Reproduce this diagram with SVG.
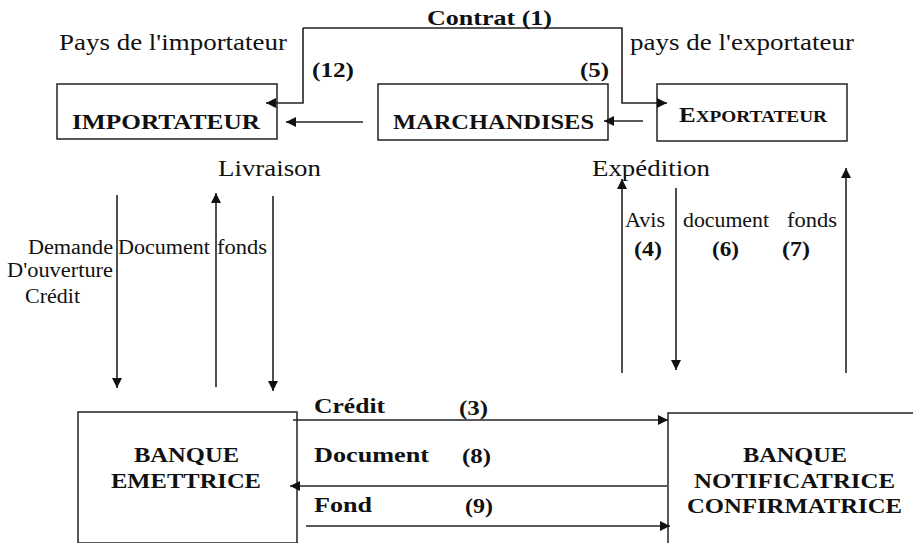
<svg xmlns="http://www.w3.org/2000/svg" width="913" height="543" viewBox="0 0 913 543">
<defs>
<marker id="ah" viewBox="0 0 10 10" refX="10" refY="5" markerWidth="11" markerHeight="10" markerUnits="userSpaceOnUse" orient="auto">
<path d="M0,0 L10,5 L0,10 Z" fill="#111"/>
</marker>
<style>
.box{fill:#fff;stroke:#222;stroke-width:1.5}
.arr{fill:none;stroke:#222;stroke-width:1.6;marker-end:url(#ah)}
.r{font-family:"Times New Roman","Liberation Serif",serif;font-size:23px;fill:#111}
.rs{font-family:"Times New Roman","Liberation Serif",serif;font-size:20px;fill:#111}
.b{font-family:"Times New Roman","Liberation Serif",serif;font-size:22px;font-weight:bold;fill:#111}
.bs{font-family:"Times New Roman","Liberation Serif",serif;font-size:20px;font-weight:bold;fill:#111}
</style>
</defs>
<rect width="913" height="543" fill="#fff"/>

<g id="importateur">
<rect class="box" x="57" y="84" width="220" height="55"/>
<text class="b" x="72" y="129" textLength="188" lengthAdjust="spacingAndGlyphs">IMPORTATEUR</text>
</g>
<g id="marchandises">
<rect class="box" x="378" y="84" width="230" height="56"/>
<text class="b" x="393" y="129" textLength="201" lengthAdjust="spacingAndGlyphs">MARCHANDISES</text>
</g>
<g id="exportateur">
<rect class="box" x="657" y="84" width="190" height="57"/>
<text class="b" x="679" y="122" textLength="148" lengthAdjust="spacingAndGlyphs">E<tspan style="font-size:17px">XPORTATEUR</tspan></text>
</g>
<g id="banque-emettrice">
<rect class="box" x="78" y="412" width="219" height="131"/>
<text class="b" x="134" y="462" textLength="105" lengthAdjust="spacingAndGlyphs">BANQUE</text>
<text class="b" x="111" y="488" textLength="150" lengthAdjust="spacingAndGlyphs">EMETTRICE</text>
</g>
<g id="banque-notificatrice">
<rect class="box" x="668" y="413" width="250" height="135"/>
<text class="b" x="743" y="462" textLength="104" lengthAdjust="spacingAndGlyphs">BANQUE</text>
<text class="b" x="694" y="488" textLength="201" lengthAdjust="spacingAndGlyphs">NOTIFICATRICE</text>
<text class="b" x="687" y="513" textLength="215" lengthAdjust="spacingAndGlyphs">CONFIRMATRICE</text>
</g>

<g id="connectors">
<polyline class="arr" points="303,28 303,103 266,103"/>
<polyline class="arr" points="303,28 622,28 622,103 667,103"/>
<line class="arr" x1="363" y1="122" x2="286" y2="122"/>
<line class="arr" x1="643" y1="121" x2="604" y2="121"/>
<line class="arr" x1="117" y1="195" x2="117" y2="388"/>
<line class="arr" x1="216" y1="387" x2="216" y2="193"/>
<line class="arr" x1="273" y1="196" x2="273" y2="391"/>
<line class="arr" x1="622" y1="373" x2="622" y2="179"/>
<line class="arr" x1="676" y1="188" x2="676" y2="370"/>
<line class="arr" x1="846" y1="373" x2="846" y2="168"/>
<line class="arr" x1="293" y1="420" x2="668" y2="420"/>
<line class="arr" x1="667" y1="486" x2="290" y2="486"/>
<line class="arr" x1="306" y1="526" x2="670" y2="526"/>
</g>

<g id="labels">
<text class="b" x="427" y="25" textLength="125" lengthAdjust="spacingAndGlyphs">Contrat (1)</text>
<text class="r" x="59" y="50" textLength="228" lengthAdjust="spacingAndGlyphs">Pays de l'importateur</text>
<text class="r" x="630" y="50" textLength="224" lengthAdjust="spacingAndGlyphs">pays de l'exportateur</text>
<text class="bs" x="312" y="77" textLength="42" lengthAdjust="spacingAndGlyphs">(12)</text>
<text class="bs" x="580" y="77" textLength="29" lengthAdjust="spacingAndGlyphs">(5)</text>
<text class="r" x="218" y="176" textLength="103" lengthAdjust="spacingAndGlyphs">Livraison</text>
<text class="r" x="592" y="176" textLength="118" lengthAdjust="spacingAndGlyphs">Expédition</text>
<text class="rs" x="28" y="254" textLength="85" lengthAdjust="spacingAndGlyphs">Demande</text>
<text class="rs" x="118" y="254" textLength="92" lengthAdjust="spacingAndGlyphs">Document</text>
<text class="rs" x="217" y="254" textLength="50" lengthAdjust="spacingAndGlyphs">fonds</text>
<text class="rs" x="7" y="277" textLength="106" lengthAdjust="spacingAndGlyphs">D'ouverture</text>
<text class="rs" x="25" y="303" textLength="55" lengthAdjust="spacingAndGlyphs">Crédit</text>
<text class="rs" x="625" y="227" textLength="40" lengthAdjust="spacingAndGlyphs">Avis</text>
<text class="rs" x="683" y="227" textLength="86" lengthAdjust="spacingAndGlyphs">document</text>
<text class="rs" x="787" y="227" textLength="50" lengthAdjust="spacingAndGlyphs">fonds</text>
<text class="bs" x="634" y="256" textLength="28" lengthAdjust="spacingAndGlyphs">(4)</text>
<text class="bs" x="712" y="256" textLength="27" lengthAdjust="spacingAndGlyphs">(6)</text>
<text class="bs" x="782" y="256" textLength="28" lengthAdjust="spacingAndGlyphs">(7)</text>
<text class="b" x="314" y="413" textLength="71" lengthAdjust="spacingAndGlyphs">Crédit</text>
<text class="b" x="314" y="462" textLength="115" lengthAdjust="spacingAndGlyphs">Document</text>
<text class="b" x="314" y="512" textLength="58" lengthAdjust="spacingAndGlyphs">Fond</text>
<text class="bs" x="459" y="415" textLength="29" lengthAdjust="spacingAndGlyphs">(3)</text>
<text class="bs" x="462" y="463" textLength="29" lengthAdjust="spacingAndGlyphs">(8)</text>
<text class="bs" x="465" y="513" textLength="28" lengthAdjust="spacingAndGlyphs">(9)</text>
</g>
</svg>
